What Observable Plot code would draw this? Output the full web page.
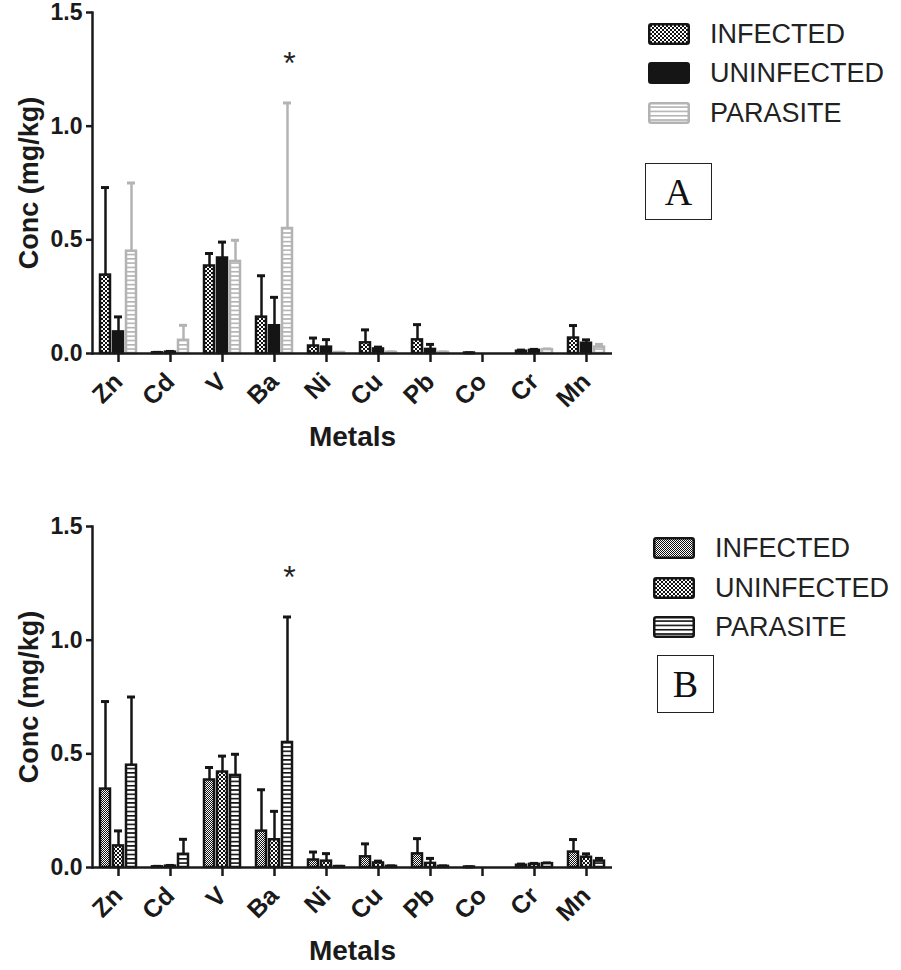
<!DOCTYPE html>
<html><head><meta charset="utf-8">
<script src="https://cdn.jsdelivr.net/npm/d3@7"></script>
<script src="https://cdn.jsdelivr.net/npm/@observablehq/plot@0.6"></script>
<style>
body{margin:0;background:#fff;}
#wrap{position:relative;width:901px;height:970px;overflow:hidden;font-family:"Liberation Sans",Arial,sans-serif;}
.chart{position:absolute;left:0;}
.item{position:absolute;display:flex;align-items:center;font-size:27px;color:#222;white-space:nowrap;height:24px;}
.item svg{margin-right:20px;flex:none;}
.panel{position:absolute;border:1.5px solid #222;font-family:"Liberation Serif","Times New Roman",serif;font-size:38px;color:#111;display:flex;align-items:center;justify-content:center;box-sizing:border-box;}
</style></head>
<body>
<svg width="0" height="0" style="position:absolute"><defs>
<pattern id="checkA" width="4" height="4" patternUnits="userSpaceOnUse"><rect width="4" height="4" fill="#fff"/><rect width="2" height="2" fill="#111"/><rect x="2" y="2" width="2" height="2" fill="#111"/></pattern>
<pattern id="fineB" width="2" height="2" patternUnits="userSpaceOnUse"><rect width="2" height="2" fill="#fff"/><rect width="1" height="1" fill="#111"/><rect x="1" y="1" width="1" height="1" fill="#111"/></pattern>
<pattern id="hlinesA" width="4" height="4.3" patternUnits="userSpaceOnUse"><rect width="4" height="4.3" fill="#fff"/><rect width="4" height="1.6" fill="#b3b3b3"/></pattern>
<pattern id="hlinesB" width="4" height="4.3" patternUnits="userSpaceOnUse"><rect width="4" height="4.3" fill="#fff"/><rect width="4" height="1.6" fill="#111"/></pattern>
</defs></svg>
<div id="wrap"></div>
<script>
const metals = ["Zn","Cd","V","Ba","Ni","Cu","Pb","Co","Cr","Mn"];
const groups = ["INFECTED","UNINFECTED","PARASITE"];
const infectedMean   = [0.345, 0.003, 0.385, 0.160, 0.033, 0.047, 0.060, 0.002, 0.010, 0.068];
const infectedSD     = [0.385, 0.002, 0.055, 0.182, 0.035, 0.057, 0.067, 0.001, 0.005, 0.055];
const uninfectedMean = [0.095, 0.006, 0.420, 0.122, 0.028, 0.020, 0.018, 0.000, 0.014, 0.045];
const uninfectedSD   = [0.066, 0.003, 0.070, 0.125, 0.033, 0.008, 0.022, 0.000, 0.004, 0.015];
const parasiteMean   = [0.450, 0.058, 0.405, 0.550, 0.004, 0.005, 0.005, 0.000, 0.017, 0.028];
const parasiteSD     = [0.300, 0.066, 0.093, 0.552, 0.001, 0.002, 0.002, 0.000, 0.003, 0.012];
const yTicks = [0, 0.5, 1.0, 1.5];
const significance = [{metal: "Ba", group: "PARASITE"}];

const means = {INFECTED: infectedMean, UNINFECTED: uninfectedMean, PARASITE: parasiteMean};
const sds = {INFECTED: infectedSD, UNINFECTED: uninfectedSD, PARASITE: parasiteSD};
const rows = [];
metals.forEach((m, i) => groups.forEach(g => rows.push({metal: m, group: g, mean: means[g][i], sd: sds[g][i]})));
const errRows = rows.filter(d => d.sd > 0);
const starRows = significance.map(s => rows.find(r => r.metal === s.metal && r.group === s.group));

const FONT = "Liberation Sans, Arial, sans-serif";

function makeChart(fills, strokes, errStrokes, height, marginBottom) {
  return Plot.plot({
    width: 620, height, marginLeft: 89, marginRight: 5, marginTop: 12, marginBottom,
    style: {fontFamily: FONT, color: "#1a1a1a", background: "transparent", overflow: "visible"},
    fx: {domain: metals, padding: 0},
    x: {domain: groups, paddingInner: 0.26, paddingOuter: 0.58, axis: null},
    y: {domain: [0, 1.5], axis: null},
    color: {type: "identity"},
    marks: [
      Plot.ruleX(errRows, {fx: "metal", x: "group", y1: "mean", y2: d => d.mean + d.sd, stroke: d => errStrokes[d.group], strokeWidth: 2.5}),
      Plot.tickY(errRows, {fx: "metal", x: "group", y: d => d.mean + d.sd, stroke: d => errStrokes[d.group], strokeWidth: 3, insetLeft: 1, insetRight: 1}),
      Plot.barY(rows, {fx: "metal", x: "group", y: "mean", fill: d => fills[d.group], stroke: d => strokes[d.group], strokeWidth: 2.5}),
      Plot.text(starRows, {fx: "metal", x: "group", y: d => d.mean + d.sd, text: () => "*", fontSize: 32, lineAnchor: "bottom", dy: -29, dx: 2, fill: "#222"}),
      Plot.ruleY([0], {strokeWidth: 2.5, stroke: "#1a1a1a"}),
      Plot.frame({anchor: "left", facetAnchor: "left", strokeWidth: 2.5, stroke: "#1a1a1a"}),
      Plot.axisY({ticks: yTicks, tickFormat: d3.format(".1f"), tickSize: 6, tickPadding: 4, fontSize: 23, fontWeight: "bold",
        strokeWidth: 2.5, label: null}),
      Plot.axisY({ticks: [], tickSize: 0, fontSize: 27, fontWeight: "bold",
        label: "Conc (mg/kg)", labelAnchor: "center", labelArrow: "none", labelOffset: 74}),
      Plot.axisFx({anchor: "bottom", tickRotate: -45, tickSize: 9, tickPadding: 15, fontSize: 25, fontWeight: "bold",
        strokeWidth: 2.5, label: null}),
      Plot.axisFx({anchor: "bottom", ticks: [], tickSize: 0, fontSize: 28, fontWeight: "bold",
        label: "Metals", labelAnchor: "center", labelArrow: "none", labelOffset: 92})
    ]
  });
}

const wrap = document.getElementById("wrap");
const A = makeChart(
  {INFECTED: "url(#checkA)", UNINFECTED: "#151515", PARASITE: "url(#hlinesA)"},
  {INFECTED: "#151515", UNINFECTED: "#151515", PARASITE: "#b3b3b3"},
  {INFECTED: "#151515", UNINFECTED: "#151515", PARASITE: "#b3b3b3"}, 460, 107);
A.classList.add("chart"); A.style.top = "0px";
wrap.appendChild(A);
const B = makeChart(
  {INFECTED: "url(#fineB)", UNINFECTED: "url(#checkA)", PARASITE: "url(#hlinesB)"},
  {INFECTED: "#151515", UNINFECTED: "#151515", PARASITE: "#151515"},
  {INFECTED: "#151515", UNINFECTED: "#151515", PARASITE: "#151515"}, 455, 102);
B.classList.add("chart"); B.style.top = "514px";
wrap.appendChild(B);

function legend(x, ys, fills, strokes, box, letter) {
  groups.forEach((g, i) => {
    const it = document.createElement("div");
    it.className = "item";
    it.style.left = x + "px"; it.style.top = (ys[i] - 12) + "px";
    it.innerHTML = `<svg width="42" height="22"><rect x="1.25" y="1.25" width="39.5" height="19.5" rx="2" fill="${fills[g]}" stroke="${strokes[g]}" stroke-width="2.5"/></svg><span>${g}</span>`;
    wrap.appendChild(it);
  });
  const p = document.createElement("div");
  p.className = "panel";
  p.style.left = box[0] + "px"; p.style.top = box[1] + "px";
  p.style.width = box[2] + "px"; p.style.height = box[3] + "px";
  p.textContent = letter;
  wrap.appendChild(p);
}
legend(648, [34, 73, 113],
  {INFECTED: "url(#checkA)", UNINFECTED: "#151515", PARASITE: "url(#hlinesA)"},
  {INFECTED: "#151515", UNINFECTED: "#151515", PARASITE: "#b3b3b3"}, [645, 163, 67, 57], "A");
legend(653, [548, 588, 627],
  {INFECTED: "url(#fineB)", UNINFECTED: "url(#checkA)", PARASITE: "url(#hlinesB)"},
  {INFECTED: "#151515", UNINFECTED: "#151515", PARASITE: "#151515"}, [657, 655, 57, 58], "B");
</script>
</body></html>
